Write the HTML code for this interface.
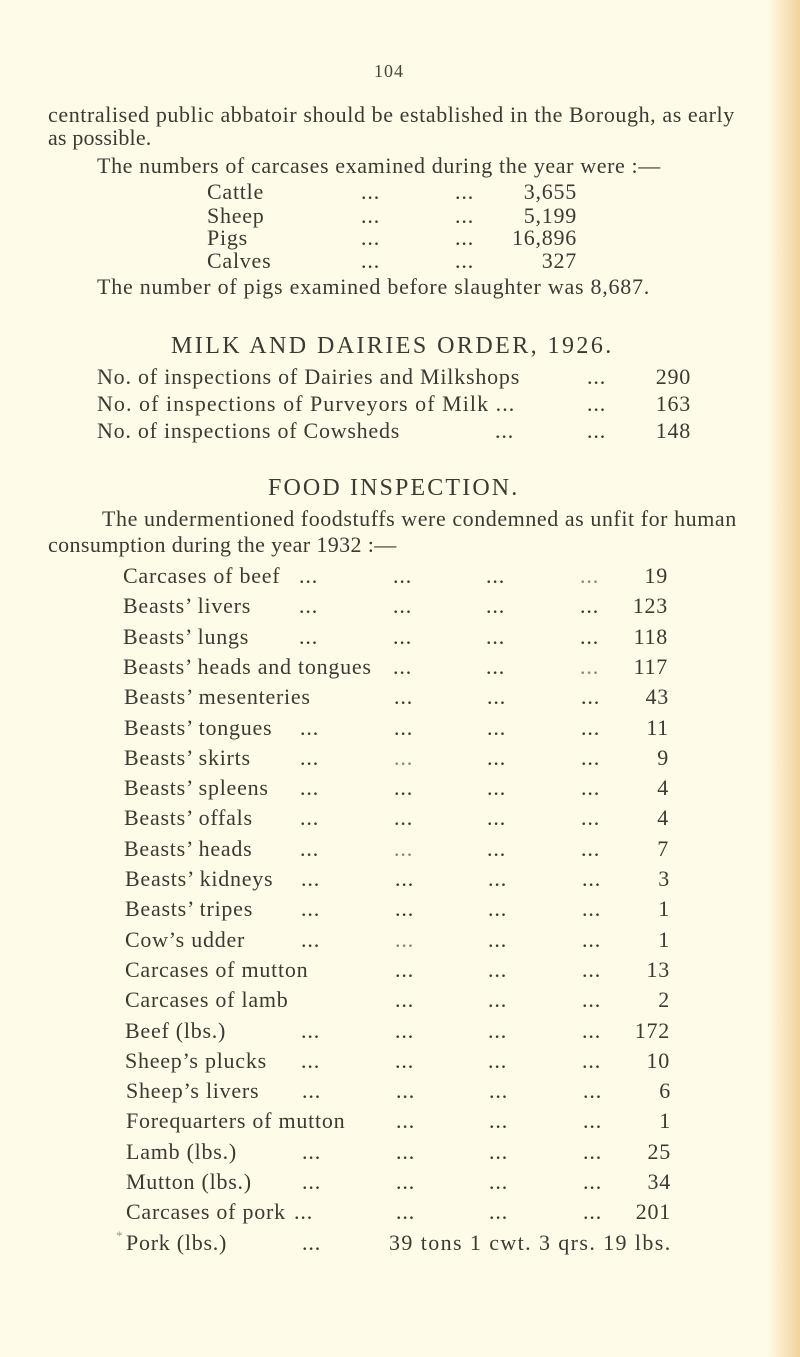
<!DOCTYPE html>
<html>
<head>
<meta charset="utf-8">
<style>
  html,body{margin:0;padding:0;background:#fefce8;width:800px;height:1357px;overflow:hidden;}
  svg{display:block;}
  text{font-family:"Liberation Serif",serif;}
</style>
</head>
<body>
<svg xmlns="http://www.w3.org/2000/svg" width="800" height="1357" viewBox="0 0 800 1357">
  <defs>
    <linearGradient id="edge" x1="0" x2="1" y1="0" y2="0">
      <stop offset="0" stop-color="#fefce8" stop-opacity="0"/>
      <stop offset="0.45" stop-color="#faecca"/>
      <stop offset="1" stop-color="#f2d29f"/>
    </linearGradient>
  </defs>
  <rect x="0" y="0" width="800" height="1357" fill="#fefce8"/>
  <rect x="762" y="0" width="38" height="1357" fill="url(#edge)"/>

  <g fill="#3d3832" font-size="22" letter-spacing="0.75">
    <!-- page number -->
    <text x="374" y="77" font-size="18" letter-spacing="1" fill="#4a453f">104</text>

    <!-- intro -->
    <text x="48" y="122" textLength="687" lengthAdjust="spacing">centralised public abbatoir should be established in the Borough, as early</text>
    <text x="48" y="145" textLength="104" lengthAdjust="spacing">as possible.</text>
    <text x="97" y="173" textLength="564" lengthAdjust="spacing">The numbers of carcases examined during the year were :—</text>

    <text x="207" y="199">Cattle</text>
    <text x="361" y="199" textLength="19" lengthAdjust="spacing">...</text>
    <text x="455" y="199" textLength="19" lengthAdjust="spacing">...</text>
    <text x="577" y="199" text-anchor="end">3,655</text>

    <text x="207" y="223">Sheep</text>
    <text x="361" y="223" textLength="19" lengthAdjust="spacing">...</text>
    <text x="455" y="223" textLength="19" lengthAdjust="spacing">...</text>
    <text x="577" y="223" text-anchor="end">5,199</text>

    <text x="207" y="245">Pigs</text>
    <text x="361" y="245" textLength="19" lengthAdjust="spacing">...</text>
    <text x="455" y="245" textLength="19" lengthAdjust="spacing">...</text>
    <text x="577" y="245" text-anchor="end">16,896</text>

    <text x="207" y="268">Calves</text>
    <text x="361" y="268" textLength="19" lengthAdjust="spacing">...</text>
    <text x="455" y="268" textLength="19" lengthAdjust="spacing">...</text>
    <text x="577" y="268" text-anchor="end">327</text>

    <text x="97" y="294" textLength="553" lengthAdjust="spacing">The number of pigs examined before slaughter was 8,687.</text>

    <!-- Milk and dairies -->
    <text x="171" y="353" font-size="24" textLength="441" lengthAdjust="spacing">MILK AND DAIRIES ORDER, 1926.</text>

    <text x="97" y="384" textLength="423" lengthAdjust="spacing">No. of inspections of Dairies and Milkshops</text>
    <text x="587" y="384" textLength="19" lengthAdjust="spacing">...</text>
    <text x="691" y="384" text-anchor="end">290</text>

    <text x="97" y="411" textLength="418" lengthAdjust="spacing">No. of inspections of Purveyors of Milk ...</text>
    <text x="587" y="411" textLength="19" lengthAdjust="spacing">...</text>
    <text x="691" y="411" text-anchor="end">163</text>

    <text x="97" y="438" textLength="303" lengthAdjust="spacing">No. of inspections of Cowsheds</text>
    <text x="495" y="438" textLength="19" lengthAdjust="spacing">...</text>
    <text x="587" y="438" textLength="19" lengthAdjust="spacing">...</text>
    <text x="691" y="438" text-anchor="end">148</text>

    <!-- Food inspection -->
    <text x="268" y="495" font-size="24" textLength="250" lengthAdjust="spacing">FOOD INSPECTION.</text>
    <text x="102" y="526" textLength="635" lengthAdjust="spacing">The undermentioned foodstuffs were condemned as unfit for human</text>
    <text x="48" y="552" textLength="349" lengthAdjust="spacing">consumption during the year 1932 :—</text>

    <!-- items -->
    <g>
      <text x="123" y="583">Carcases of beef</text>
      <text x="299" y="583" textLength="19" lengthAdjust="spacing">...</text>
      <text x="393" y="583" textLength="19" lengthAdjust="spacing">...</text>
      <text x="486" y="583" textLength="19" lengthAdjust="spacing">...</text>
      <text x="580" y="583" textLength="19" lengthAdjust="spacing" fill="#8a857e">...</text>
      <text x="668" y="583" text-anchor="end">19</text>

      <text x="123" y="613">Beasts’ livers</text>
      <text x="299" y="613" textLength="19" lengthAdjust="spacing">...</text>
      <text x="393" y="613" textLength="19" lengthAdjust="spacing">...</text>
      <text x="486" y="613" textLength="19" lengthAdjust="spacing">...</text>
      <text x="580" y="613" textLength="19" lengthAdjust="spacing">...</text>
      <text x="668" y="613" text-anchor="end">123</text>

      <text x="123" y="644">Beasts’ lungs</text>
      <text x="299" y="644" textLength="19" lengthAdjust="spacing">...</text>
      <text x="393" y="644" textLength="19" lengthAdjust="spacing">...</text>
      <text x="486" y="644" textLength="19" lengthAdjust="spacing">...</text>
      <text x="580" y="644" textLength="19" lengthAdjust="spacing">...</text>
      <text x="668" y="644" text-anchor="end">118</text>

      <text x="123" y="674">Beasts’ heads and tongues</text>
      <text x="393" y="674" textLength="19" lengthAdjust="spacing">...</text>
      <text x="486" y="674" textLength="19" lengthAdjust="spacing">...</text>
      <text x="580" y="674" textLength="19" lengthAdjust="spacing" fill="#8a857e">...</text>
      <text x="668" y="674" text-anchor="end">117</text>

      <text x="124" y="704">Beasts’ mesenteries</text>
      <text x="394" y="704" textLength="19" lengthAdjust="spacing">...</text>
      <text x="487" y="704" textLength="19" lengthAdjust="spacing">...</text>
      <text x="581" y="704" textLength="19" lengthAdjust="spacing">...</text>
      <text x="669" y="704" text-anchor="end">43</text>

      <text x="124" y="735">Beasts’ tongues</text>
      <text x="300" y="735" textLength="19" lengthAdjust="spacing">...</text>
      <text x="394" y="735" textLength="19" lengthAdjust="spacing">...</text>
      <text x="487" y="735" textLength="19" lengthAdjust="spacing">...</text>
      <text x="581" y="735" textLength="19" lengthAdjust="spacing">...</text>
      <text x="669" y="735" text-anchor="end">11</text>

      <text x="124" y="765">Beasts’ skirts</text>
      <text x="300" y="765" textLength="19" lengthAdjust="spacing">...</text>
      <text x="394" y="765" textLength="19" lengthAdjust="spacing" fill="#8a857e">...</text>
      <text x="487" y="765" textLength="19" lengthAdjust="spacing">...</text>
      <text x="581" y="765" textLength="19" lengthAdjust="spacing">...</text>
      <text x="669" y="765" text-anchor="end">9</text>

      <text x="124" y="795">Beasts’ spleens</text>
      <text x="300" y="795" textLength="19" lengthAdjust="spacing">...</text>
      <text x="394" y="795" textLength="19" lengthAdjust="spacing">...</text>
      <text x="487" y="795" textLength="19" lengthAdjust="spacing">...</text>
      <text x="581" y="795" textLength="19" lengthAdjust="spacing">...</text>
      <text x="669" y="795" text-anchor="end">4</text>

      <text x="124" y="825">Beasts’ offals</text>
      <text x="300" y="825" textLength="19" lengthAdjust="spacing">...</text>
      <text x="394" y="825" textLength="19" lengthAdjust="spacing">...</text>
      <text x="487" y="825" textLength="19" lengthAdjust="spacing">...</text>
      <text x="581" y="825" textLength="19" lengthAdjust="spacing">...</text>
      <text x="669" y="825" text-anchor="end">4</text>

      <text x="124" y="856">Beasts’ heads</text>
      <text x="300" y="856" textLength="19" lengthAdjust="spacing">...</text>
      <text x="394" y="856" textLength="19" lengthAdjust="spacing" fill="#8a857e">...</text>
      <text x="487" y="856" textLength="19" lengthAdjust="spacing">...</text>
      <text x="581" y="856" textLength="19" lengthAdjust="spacing">...</text>
      <text x="669" y="856" text-anchor="end">7</text>

      <text x="125" y="886">Beasts’ kidneys</text>
      <text x="301" y="886" textLength="19" lengthAdjust="spacing">...</text>
      <text x="395" y="886" textLength="19" lengthAdjust="spacing">...</text>
      <text x="488" y="886" textLength="19" lengthAdjust="spacing">...</text>
      <text x="582" y="886" textLength="19" lengthAdjust="spacing">...</text>
      <text x="670" y="886" text-anchor="end">3</text>

      <text x="125" y="916">Beasts’ tripes</text>
      <text x="301" y="916" textLength="19" lengthAdjust="spacing">...</text>
      <text x="395" y="916" textLength="19" lengthAdjust="spacing">...</text>
      <text x="488" y="916" textLength="19" lengthAdjust="spacing">...</text>
      <text x="582" y="916" textLength="19" lengthAdjust="spacing">...</text>
      <text x="670" y="916" text-anchor="end">1</text>

      <text x="125" y="947">Cow’s udder</text>
      <text x="301" y="947" textLength="19" lengthAdjust="spacing">...</text>
      <text x="395" y="947" textLength="19" lengthAdjust="spacing" fill="#8a857e">...</text>
      <text x="488" y="947" textLength="19" lengthAdjust="spacing">...</text>
      <text x="582" y="947" textLength="19" lengthAdjust="spacing">...</text>
      <text x="670" y="947" text-anchor="end">1</text>

      <text x="125" y="977">Carcases of mutton</text>
      <text x="395" y="977" textLength="19" lengthAdjust="spacing">...</text>
      <text x="488" y="977" textLength="19" lengthAdjust="spacing">...</text>
      <text x="582" y="977" textLength="19" lengthAdjust="spacing">...</text>
      <text x="670" y="977" text-anchor="end">13</text>

      <text x="125" y="1007">Carcases of lamb</text>
      <text x="395" y="1007" textLength="19" lengthAdjust="spacing">...</text>
      <text x="488" y="1007" textLength="19" lengthAdjust="spacing">...</text>
      <text x="582" y="1007" textLength="19" lengthAdjust="spacing">...</text>
      <text x="670" y="1007" text-anchor="end">2</text>

      <text x="125" y="1038">Beef (lbs.)</text>
      <text x="301" y="1038" textLength="19" lengthAdjust="spacing">...</text>
      <text x="395" y="1038" textLength="19" lengthAdjust="spacing">...</text>
      <text x="488" y="1038" textLength="19" lengthAdjust="spacing">...</text>
      <text x="582" y="1038" textLength="19" lengthAdjust="spacing">...</text>
      <text x="670" y="1038" text-anchor="end">172</text>

      <text x="125" y="1068">Sheep’s plucks</text>
      <text x="301" y="1068" textLength="19" lengthAdjust="spacing">...</text>
      <text x="395" y="1068" textLength="19" lengthAdjust="spacing">...</text>
      <text x="488" y="1068" textLength="19" lengthAdjust="spacing">...</text>
      <text x="582" y="1068" textLength="19" lengthAdjust="spacing">...</text>
      <text x="670" y="1068" text-anchor="end">10</text>

      <text x="126" y="1098">Sheep’s livers</text>
      <text x="302" y="1098" textLength="19" lengthAdjust="spacing">...</text>
      <text x="396" y="1098" textLength="19" lengthAdjust="spacing">...</text>
      <text x="489" y="1098" textLength="19" lengthAdjust="spacing">...</text>
      <text x="583" y="1098" textLength="19" lengthAdjust="spacing">...</text>
      <text x="671" y="1098" text-anchor="end">6</text>

      <text x="126" y="1128">Forequarters of mutton</text>
      <text x="396" y="1128" textLength="19" lengthAdjust="spacing">...</text>
      <text x="489" y="1128" textLength="19" lengthAdjust="spacing">...</text>
      <text x="583" y="1128" textLength="19" lengthAdjust="spacing">...</text>
      <text x="671" y="1128" text-anchor="end">1</text>

      <text x="126" y="1159">Lamb (lbs.)</text>
      <text x="302" y="1159" textLength="19" lengthAdjust="spacing">...</text>
      <text x="396" y="1159" textLength="19" lengthAdjust="spacing">...</text>
      <text x="489" y="1159" textLength="19" lengthAdjust="spacing">...</text>
      <text x="583" y="1159" textLength="19" lengthAdjust="spacing">...</text>
      <text x="671" y="1159" text-anchor="end">25</text>

      <text x="126" y="1189">Mutton (lbs.)</text>
      <text x="302" y="1189" textLength="19" lengthAdjust="spacing">...</text>
      <text x="396" y="1189" textLength="19" lengthAdjust="spacing">...</text>
      <text x="489" y="1189" textLength="19" lengthAdjust="spacing">...</text>
      <text x="583" y="1189" textLength="19" lengthAdjust="spacing">...</text>
      <text x="671" y="1189" text-anchor="end">34</text>

      <text x="126" y="1219">Carcases of pork</text>
      <text x="294" y="1219" textLength="19" lengthAdjust="spacing">...</text>
      <text x="396" y="1219" textLength="19" lengthAdjust="spacing">...</text>
      <text x="489" y="1219" textLength="19" lengthAdjust="spacing">...</text>
      <text x="583" y="1219" textLength="19" lengthAdjust="spacing">...</text>
      <text x="671" y="1219" text-anchor="end">201</text>

      <text x="116" y="1240" font-size="13" fill="#9a958e">*</text>
      <text x="126" y="1250">Pork (lbs.)</text>
      <text x="302" y="1250" textLength="19" lengthAdjust="spacing">...</text>
      <text x="389" y="1250" textLength="282" lengthAdjust="spacing">39 tons 1 cwt. 3 qrs. 19 lbs.</text>
    </g>
  </g>
</svg>
</body>
</html>
